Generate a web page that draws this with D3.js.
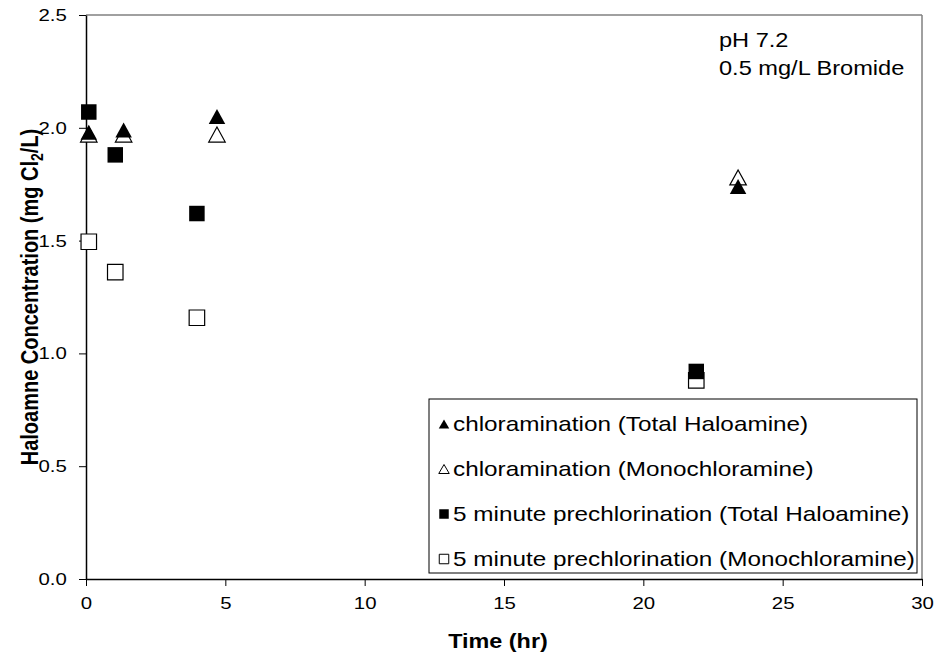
<!DOCTYPE html>
<html>
<head>
<meta charset="utf-8">
<script src="https://cdn.jsdelivr.net/npm/d3@7"></script>
<style>
  body { margin: 0; background: #fff; }
  svg { display: block; font-family: "Liberation Sans", Arial, sans-serif; }
</style>
</head>
<body>
<svg id="chart" width="936" height="659"></svg>
<script>
// Haloamine decay under chloramination vs. 5-minute prechlorination
const chlorTotalTime = [0.1, 1.35, 4.7, 23.4];
const chlorTotalValue = [1.98, 1.99, 2.05, 1.74];
const chlorMonoTime = [0.1, 1.35, 4.7, 23.4];
const chlorMonoValue = [1.97, 1.97, 1.97, 1.78];
const preTotalTime = [0.1, 1.05, 3.98, 21.9];
const preTotalValue = [2.07, 1.88, 1.62, 0.92];
const preMonoTime = [0.1, 1.05, 3.98, 21.9];
const preMonoValue = [1.495, 1.36, 1.158, 0.88];

const xTicks = [0, 5, 10, 15, 20, 25, 30];
const yTicks = [0, 0.5, 1.0, 1.5, 2.0, 2.5];

const legendLabels = [
  "chloramination (Total Haloamine)",
  "chloramination (Monochloramine)",
  "5 minute prechlorination (Total Haloamine)",
  "5 minute prechlorination (Monochloramine)"
];
const annotationLines = ["pH 7.2", "0.5 mg/L Bromide"];

const svg = d3.select("#chart");
const plotL = 86, plotR = 922, plotT = 15, plotB = 579;
const SX = 1.2; // text is drawn slightly wide

const x = d3.scaleLinear().domain([0, 30]).range([plotL, plotR]);
const y = d3.scaleLinear().domain([0, 2.5]).range([plotB, plotT]);

// horizontal text widened about its anchor point
function wideText(px, py, str, size, opts = {}) {
  const sx = opts.sx || SX;
  const g = svg.append("g").attr("transform", `translate(${px},${py}) scale(${sx},1)`);
  return g.append("text").attr("font-size", size)
    .attr("text-anchor", opts.anchor || "start")
    .attr("font-weight", opts.bold ? "bold" : null)
    .attr("dy", opts.dy || null)
    .text(str);
}

// frame: grey top/right border
svg.append("line").attr("x1", plotL).attr("x2", plotR).attr("y1", plotT).attr("y2", plotT)
  .attr("stroke", "#808080").attr("stroke-width", 1.5);
svg.append("line").attr("x1", plotR).attr("x2", plotR).attr("y1", plotT).attr("y2", plotB)
  .attr("stroke", "#808080").attr("stroke-width", 1.5);

// axes
const xAxis = svg.append("g").attr("transform", `translate(0,${plotB})`)
  .call(d3.axisBottom(x).tickValues(xTicks).tickFormat(d3.format("d"))
    .tickSize(7).tickPadding(11).tickSizeOuter(0));
const yAxis = svg.append("g").attr("transform", `translate(${plotL},0)`)
  .call(d3.axisLeft(y).tickValues(yTicks).tickFormat(d3.format(".1f"))
    .tickSize(7).tickPadding(9).tickSizeOuter(0));

[xAxis, yAxis].forEach(g => {
  g.select(".domain").attr("stroke", "#000").attr("stroke-width", 1.5);
  g.selectAll(".tick line").attr("stroke", "#000").attr("stroke-width", 1);
  g.selectAll("text").attr("font-size", 17).attr("fill", "#000")
    .attr("font-family", "Liberation Sans, Arial, sans-serif")
    .attr("transform", `scale(${SX},1)`);
});

// axis titles
wideText(498, 648, "Time (hr)", 19.5, { anchor: "middle", bold: true });

const yTitle = svg.append("g")
  .attr("transform", `translate(38,297) rotate(-90) scale(1,${SX})`)
  .append("text").attr("text-anchor", "middle").attr("font-size", 20).attr("font-weight", "bold");
yTitle.append("tspan").text("Haloamne Concentration (mg Cl");
yTitle.append("tspan").attr("font-size", 14).attr("dy", 4).text("2");
yTitle.append("tspan").attr("dy", -4).text("/L)");

// marker shapes
const triPath = (w, h) => `M0,${-h / 2}L${w / 2},${h / 2}L${-w / 2},${h / 2}Z`;
const sqPath = s => `M${-s / 2},${-s / 2}h${s}v${s}h${-s}Z`;
const tri = triPath(16.5, 15);
const sq = sqPath(15.5);

function drawSeries(times, values, path, filled) {
  svg.append("g").selectAll("path")
    .data(times.map((t, i) => [t, values[i]]))
    .join("path")
    .attr("d", path)
    .attr("transform", d => `translate(${x(d[0])},${y(d[1])})`)
    .attr("fill", filled ? "#000" : "#fff")
    .attr("stroke", "#000")
    .attr("stroke-width", filled ? 0 : 1.2);
}
// open markers first so filled ones sit on top
drawSeries(preMonoTime, preMonoValue, sq, false);
drawSeries(chlorMonoTime, chlorMonoValue, tri, false);
drawSeries(preTotalTime, preTotalValue, sq, true);
drawSeries(chlorTotalTime, chlorTotalValue, tri, true);

// annotation
annotationLines.forEach((s, i) => wideText(719, 47 + i * 28, s, 20, { sx: 1.18 }));

// legend
svg.append("rect").attr("x", 429).attr("y", 399).attr("width", 488).attr("height", 174)
  .attr("fill", "#fff").attr("stroke", "#000").attr("stroke-width", 1);
const legendMarkers = [
  { path: triPath(10.5, 9), filled: true },
  { path: triPath(10.5, 9), filled: false },
  { path: sqPath(9.5), filled: true },
  { path: sqPath(9.5), filled: false }
];
legendLabels.forEach((lab, i) => {
  const cy = 424 + i * 45;
  const m = legendMarkers[i];
  svg.append("path").attr("d", m.path).attr("transform", `translate(444,${cy})`)
    .attr("fill", m.filled ? "#000" : "#fff").attr("stroke", "#000")
    .attr("stroke-width", m.filled ? 0 : 1);
  wideText(453, cy, lab, 20, { dy: "0.36em", sx: 1.215 });
});
</script>
</body>
</html>
